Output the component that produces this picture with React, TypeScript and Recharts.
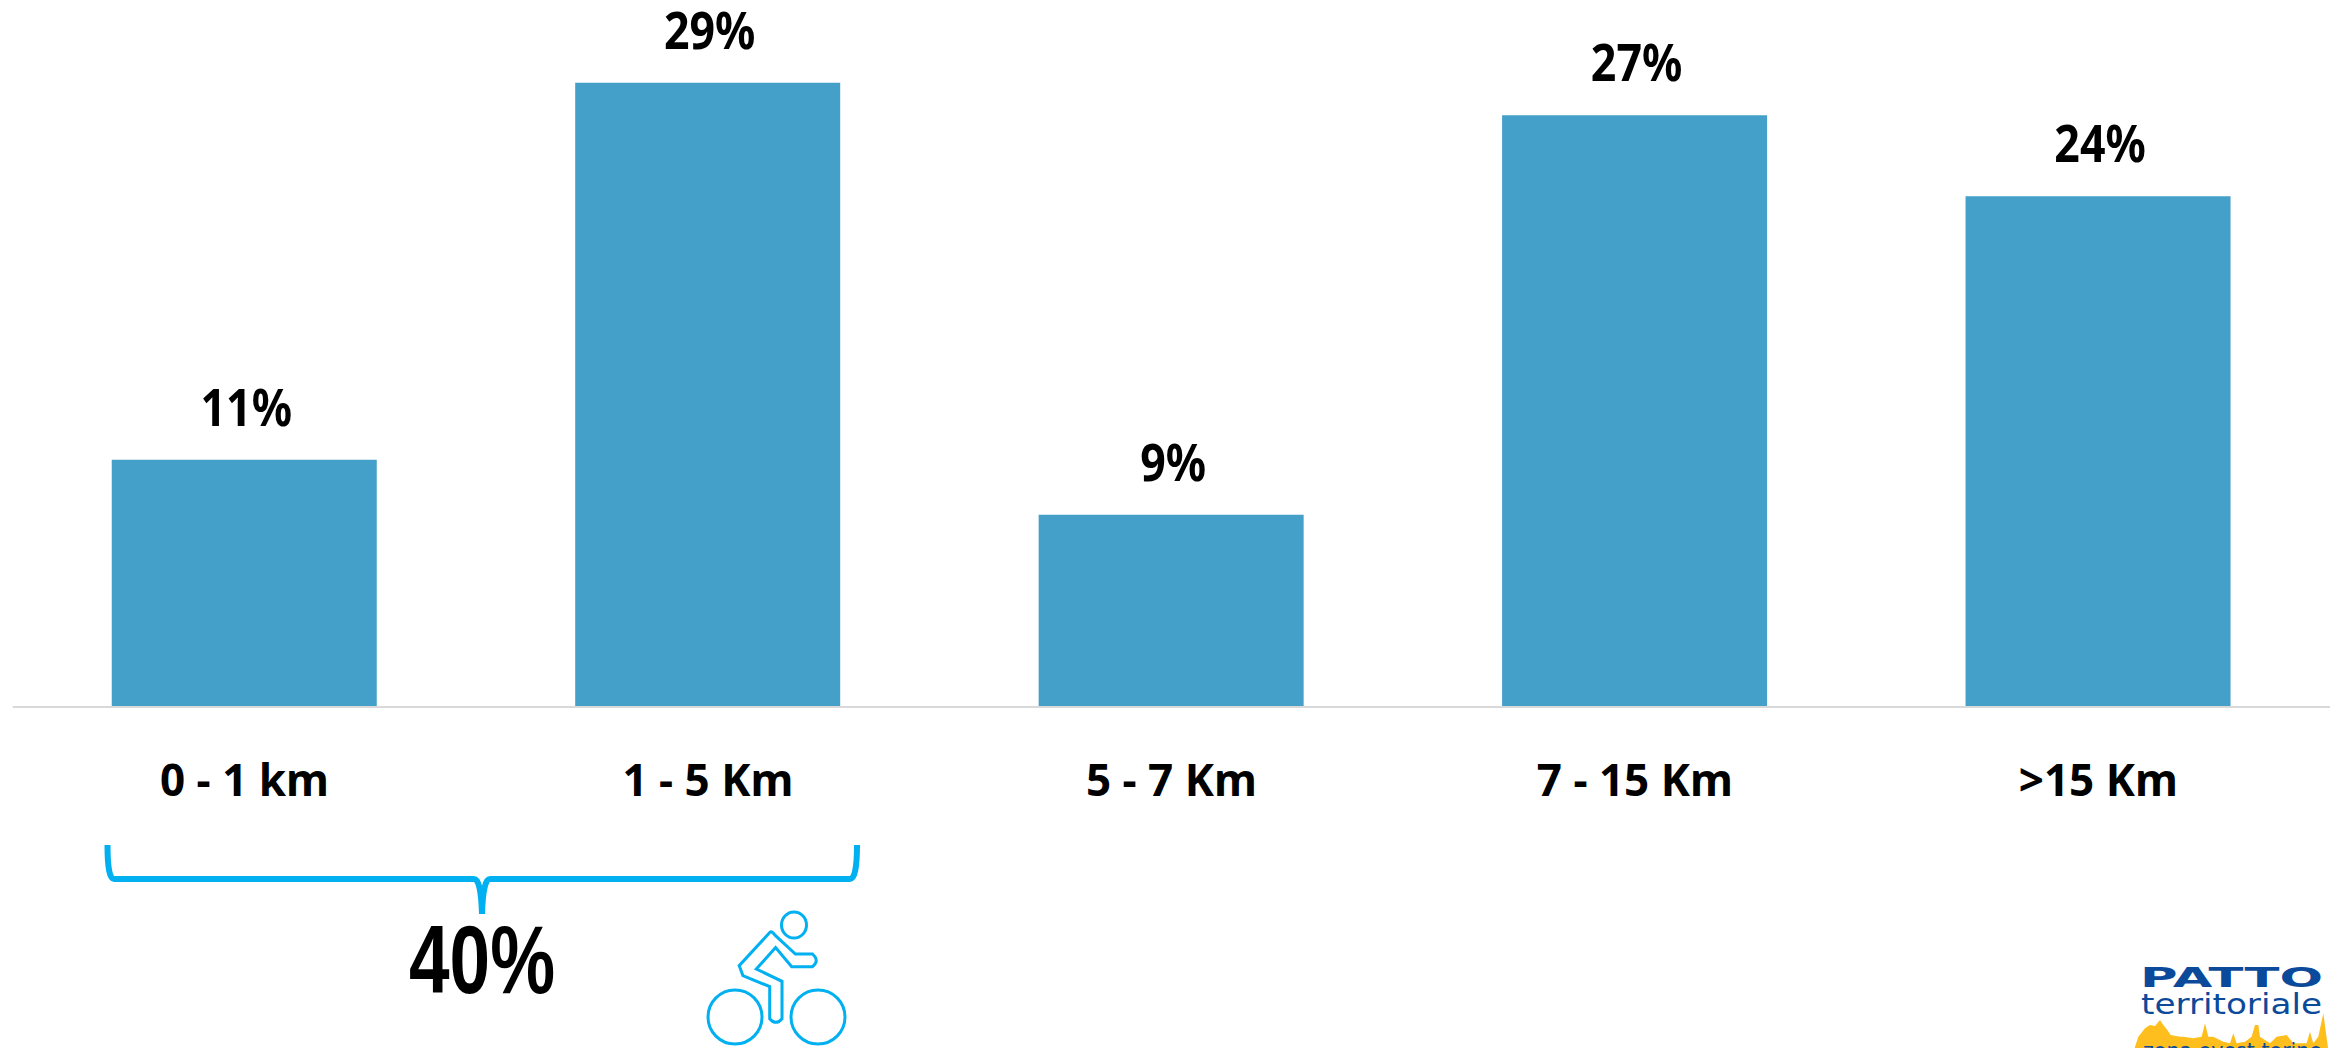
import { Bar, BarChart, LabelList, XAxis, YAxis } from "recharts";

const categories = ["0 - 1 km", "1 - 5 Km", "5 - 7 Km", "7 - 15 Km", ">15 Km"];
const shares = [11.45, 28.9, 8.9, 27.4, 23.65];

const data = categories.map((category, i) => ({ category, share: shares[i] }));

const BAR_COLOR = "#449FC9";
const ACCENT = "#00B0F0";
const LOGO_BLUE = "#0B4A9B";
const FONT = "'Noto Sans', sans-serif";

// points of the skyline in the logo, 3x units from its corner
const SKYLINE = "162,360 175,320 195,295 210,285 225,288 240,270 250,285 262,300 272,315 300,320 310,320 340,325 365,320 375,280 385,320 400,320 430,335 450,340 460,310 470,340 495,335 515,320 525,285 535,285 540,320 570,340 590,320 620,315 640,340 680,340 690,305 700,340 715,320 730,250 745,360";

// the percentages are narrower than any installed bold, so squeeze them a bit
function ShareLabel({ x, y, width, value }: any) {
    const cx = x + width / 2 + 2;
    return (
        <text
            transform={`translate(${cx},${y - 34}) scale(0.86,1)`}
            textAnchor="middle"
            fill="#000"
            fontSize={52}
            fontWeight={700}
            fontFamily={FONT}
        >
            {`${Math.round(value)}%`}
        </text>
    );
}

function Overlay() {
    return (
        <svg width={2341} height={1048} style={{ position: "absolute", left: 0, top: 0, pointerEvents: "none" }}>
            {/* curly bracket under the first two bars */}
            <path
                d="M107.5 845 Q107.5 879 114 879 L474 879 Q481 879 482 914 Q483 879 490 879 L850 879 Q857 879 857 845"
                fill="none"
                stroke={ACCENT}
                strokeWidth={6}
            />
            <text
                x={409}
                y={993}
                fontFamily="'Liberation Sans', Arial, sans-serif"
                fontWeight={700}
                fontSize={97}
                textLength={146}
                lengthAdjust="spacingAndGlyphs"
                fill="#000"
            >
                40%
            </text>

            {/* cyclist */}
            <g fill="none" stroke={ACCENT} strokeWidth={3}>
                <ellipse cx={794} cy={925} rx={12.5} ry={13} />
                <circle cx={735} cy={1017} r={27} />
                <circle cx={818} cy={1017} r={27} />
                <path d="M769.7 932.6 L739.2 965.7 L742.9 975.6 L769.7 986.6 L769.7 1018.7 Q776 1026 782 1018.7 L782 981.3 L756.3 969 L775.6 947.5 L791.7 966.7 L812.5 966.7 Q820 960.7 812.5 954 L795.4 954 L775 935.2 Q771 930 769.7 932.6 Z" />
            </g>

            {/* logo */}
            <text x={2140} y={987} fontFamily="'DejaVu Sans', sans-serif" fontWeight={700} fontSize={27} textLength={183} lengthAdjust="spacingAndGlyphs" fill={LOGO_BLUE}>
                PATTO
            </text>
            <polygon points={SKYLINE} transform="translate(2080,930) scale(0.3333)" fill="#FDBE1E" />
            <text x={2141} y={1014} fontFamily="'DejaVu Sans', sans-serif" fontSize={28} textLength={181} lengthAdjust="spacingAndGlyphs" fill={LOGO_BLUE}>
                territoriale
            </text>
            <text x={2143} y={1058} fontFamily="'DejaVu Sans', sans-serif" fontSize={22} textLength={179} lengthAdjust="spacingAndGlyphs" fill={LOGO_BLUE}>
                zona ovest torino
            </text>
        </svg>
    );
}

export default function App() {
    return (
        <div style={{ position: "absolute", left: 0, top: 0, width: 2341, height: 1048, background: "#fff", overflow: "hidden" }}>
            <BarChart
                width={2341}
                height={1048}
                data={data}
                margin={{ top: 59, right: 11, bottom: 281, left: 12.75 }}
            >
                <YAxis hide domain={[0, 30]} />
                <XAxis
                    dataKey="category"
                    height={60}
                    interval={0}
                    tickLine={false}
                    tickMargin={52}
                    axisLine={{ stroke: "#D9D9D9", strokeWidth: 2 }}
                    tick={{ fill: "#000", fontSize: 44, fontWeight: 700, fontFamily: FONT }}
                />
                <Bar dataKey="share" fill={BAR_COLOR} barSize={265} isAnimationActive={false}>
                    <LabelList dataKey="share" content={ShareLabel} />
                </Bar>
            </BarChart>
            <Overlay />
        </div>
    );
}
